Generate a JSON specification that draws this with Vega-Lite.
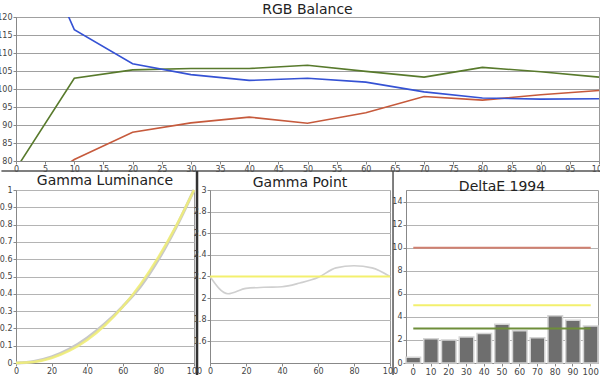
{
  "$schema": "https://vega.github.io/schema/vega-lite/v6.json",
  "autosize": {"type": "pad"},
  "padding": {"left": -4, "top": 2, "right": 0, "bottom": 0},
  "background": "#ffffff",
  "bounds": "flush",
  "spacing": 29,
  "resolve": {"scale": {"color": "independent"}},
  "config": {
    "font": "DejaVu Sans",
    "view": {"stroke": "#999999"},
    "axis": {"labelFont": "DejaVu Sans", "labelFontSize": 8, "labelColor": "#444444", "domainColor": "#888888", "tickColor": "#888888", "gridColor": "#b4b4b4", "title": null, "tickSize": 3, "labelPadding": 1, "labelFlush": false, "labelOverlap": false},
    "title": {"font": "DejaVu Sans", "fontSize": 14, "fontWeight": "normal", "color": "#222222", "offset": -4}
  },
  "datasets": {
    "rgb": [
      {"x": 0, "ch": "R", "v": 70}, {"x": 10, "ch": "R", "v": 80.4}, {"x": 20, "ch": "R", "v": 88}, {"x": 30, "ch": "R", "v": 90.6}, {"x": 40, "ch": "R", "v": 92.2}, {"x": 50, "ch": "R", "v": 90.5}, {"x": 60, "ch": "R", "v": 93.4}, {"x": 70, "ch": "R", "v": 97.9}, {"x": 80, "ch": "R", "v": 96.9}, {"x": 90, "ch": "R", "v": 98.4}, {"x": 100, "ch": "R", "v": 99.6},
      {"x": 0, "ch": "G", "v": 77.8}, {"x": 10, "ch": "G", "v": 103}, {"x": 20, "ch": "G", "v": 105.3}, {"x": 30, "ch": "G", "v": 105.7}, {"x": 40, "ch": "G", "v": 105.7}, {"x": 50, "ch": "G", "v": 106.6}, {"x": 60, "ch": "G", "v": 104.9}, {"x": 70, "ch": "G", "v": 103.3}, {"x": 80, "ch": "G", "v": 106}, {"x": 90, "ch": "G", "v": 104.8}, {"x": 100, "ch": "G", "v": 103.3},
      {"x": 0, "ch": "B", "v": 153}, {"x": 10, "ch": "B", "v": 116.5}, {"x": 20, "ch": "B", "v": 107}, {"x": 30, "ch": "B", "v": 104}, {"x": 40, "ch": "B", "v": 102.4}, {"x": 50, "ch": "B", "v": 103}, {"x": 60, "ch": "B", "v": 101.9}, {"x": 70, "ch": "B", "v": 99.2}, {"x": 80, "ch": "B", "v": 97.5}, {"x": 90, "ch": "B", "v": 97.2}, {"x": 100, "ch": "B", "v": 97.3}
    ],
    "lum": [
      {"x": 0, "s": "measured", "v": 0}, {"x": 10, "s": "measured", "v": 0.009}, {"x": 20, "s": "measured", "v": 0.035}, {"x": 30, "s": "measured", "v": 0.08}, {"x": 40, "s": "measured", "v": 0.145}, {"x": 50, "s": "measured", "v": 0.227}, {"x": 60, "s": "measured", "v": 0.327}, {"x": 70, "s": "measured", "v": 0.443}, {"x": 80, "s": "measured", "v": 0.598}, {"x": 90, "s": "measured", "v": 0.786}, {"x": 100, "s": "measured", "v": 1},
      {"x": 0, "s": "target", "v": 0}, {"x": 10, "s": "target", "v": 0.006}, {"x": 20, "s": "target", "v": 0.029}, {"x": 30, "s": "target", "v": 0.071}, {"x": 40, "s": "target", "v": 0.133}, {"x": 50, "s": "target", "v": 0.218}, {"x": 60, "s": "target", "v": 0.325}, {"x": 70, "s": "target", "v": 0.456}, {"x": 80, "s": "target", "v": 0.612}, {"x": 90, "s": "target", "v": 0.793}, {"x": 100, "s": "target", "v": 1}
    ],
    "gamma": [
      {"x": 0, "v": 2.2}, {"x": 10, "v": 2.04}, {"x": 20, "v": 2.09}, {"x": 30, "v": 2.1}, {"x": 40, "v": 2.105}, {"x": 50, "v": 2.14}, {"x": 60, "v": 2.19}, {"x": 70, "v": 2.28}, {"x": 80, "v": 2.3}, {"x": 90, "v": 2.28}, {"x": 100, "v": 2.2}
    ],
    "de": [
      {"c": 0, "v": 0.5}, {"c": 10, "v": 2.1}, {"c": 20, "v": 2.0}, {"c": 30, "v": 2.25}, {"c": 40, "v": 2.55}, {"c": 50, "v": 3.35}, {"c": 60, "v": 2.8}, {"c": 70, "v": 2.2}, {"c": 80, "v": 4.1}, {"c": 90, "v": 3.7}, {"c": 100, "v": 3.2}
    ],
    "limits": [
      {"t": 10, "k": "high"}, {"t": 5, "k": "mid"}, {"t": 3, "k": "low"}
    ],
    "one": [{}]
  },
  "vconcat": [
    {
      "width": 583,
      "height": 144,
      "title": "RGB Balance",
      "layer": [
        {
          "data": {"name": "rgb"},
          "mark": {"type": "line", "strokeWidth": 1.6, "clip": true},
          "encoding": {
            "x": {"field": "x", "type": "quantitative", "scale": {"domain": [0, 100], "nice": false}, "axis": {"values": [0, 5, 10, 15, 20, 25, 30, 35, 40, 45, 50, 55, 60, 65, 70, 75, 80, 85, 90, 95, 100], "tickCount": 100, "format": "d", "grid": false, "labelOverlap": false}},
            "y": {"field": "v", "type": "quantitative", "scale": {"domain": [80, 120], "nice": false, "zero": false}, "axis": {"values": [80, 85, 90, 95, 100, 105, 110, 115, 120], "tickCount": 100, "format": "d", "grid": true, "gridColor": "#a0a0a0", "labelOverlap": false}},
            "color": {"field": "ch", "type": "nominal", "scale": {"domain": ["R", "G", "B"], "range": ["#c65a3c", "#587a2c", "#3552d4"]}, "legend": null}
          }
        },
        {
          "data": {"name": "one"},
          "mark": {"type": "rule", "color": "#555555", "strokeWidth": 1.5, "clip": false},
          "encoding": {"x": {"datum": -2.5}, "x2": {"datum": 100.5}, "y": {"datum": 77.2}}
        },
        {
          "data": {"name": "one"},
          "mark": {"type": "rule", "color": "#333333", "strokeWidth": 2.5, "clip": false},
          "encoding": {"x": {"datum": 31.05}, "y": {"datum": 77.2}, "y2": {"datum": 20.3}}
        },
        {
          "data": {"name": "one"},
          "mark": {"type": "rule", "color": "#555555", "strokeWidth": 1.5, "clip": false},
          "encoding": {"x": {"datum": 64.67}, "y": {"datum": 77.2}, "y2": {"datum": 20.3}}
        }
      ]
    },
    {
      "bounds": "flush",
      "spacing": 16,
      "resolve": {"scale": {"color": "independent"}},
      "hconcat": [
        {
          "width": 178,
          "height": 173,
          "title": "Gamma Luminance",
          "layer": [
            {
              "data": {"name": "lum"},
              "transform": [{"filter": "datum.s == 'measured'"}],
              "mark": {"type": "line", "strokeWidth": 3, "interpolate": "monotone", "color": "#c8c8c8"},
              "encoding": {
                "x": {"field": "x", "type": "quantitative", "scale": {"domain": [0, 100], "nice": false}, "axis": {"values": [0, 20, 40, 60, 80, 100], "tickCount": 100, "format": "d", "grid": false, "labelOverlap": false}},
                "y": {"field": "v", "type": "quantitative", "scale": {"domain": [0, 1], "nice": false}, "axis": {"values": [0, 0.1, 0.2, 0.3, 0.4, 0.5, 0.6, 0.7, 0.8, 0.9, 1], "tickCount": 100, "format": "~g", "grid": true, "labelOverlap": false}}
              }
            },
            {
              "data": {"name": "lum"},
              "transform": [{"filter": "datum.s == 'target'"}],
              "mark": {"type": "line", "strokeWidth": 2.5, "interpolate": "monotone", "color": "#efed78", "opacity": 0.9},
              "encoding": {
                "x": {"field": "x", "type": "quantitative"},
                "y": {"field": "v", "type": "quantitative"}
              }
            }
          ]
        },
        {
          "width": 180,
          "height": 173,
          "title": "Gamma Point",
          "layer": [
            {
              "data": {"name": "gamma"},
              "mark": {"type": "line", "strokeWidth": 1.6, "interpolate": "monotone", "color": "#cfcfcf"},
              "encoding": {
                "x": {"field": "x", "type": "quantitative", "scale": {"domain": [0, 100], "nice": false}, "axis": {"values": [0, 20, 40, 60, 80, 100], "tickCount": 100, "format": "d", "grid": false, "labelOverlap": false}},
                "y": {"field": "v", "type": "quantitative", "scale": {"domain": [1.4, 3], "nice": false, "zero": false}, "axis": {"values": [1.6, 1.8, 2, 2.2, 2.4, 2.6, 2.8, 3], "tickCount": 100, "format": "~g", "grid": true, "labelOverlap": false}}
              }
            },
            {
              "data": {"name": "one"},
              "mark": {"type": "rule", "color": "#f3f06e", "strokeWidth": 2},
              "encoding": {"x": {"datum": 0}, "x2": {"datum": 100}, "y": {"datum": 2.2}}
            }
          ]
        },
        {
          "width": 192,
          "height": 173,
          "title": "DeltaE 1994",
          "layer": [
            {
              "data": {"name": "de"},
              "mark": {"type": "bar", "color": "#6e6e6e", "stroke": "#d4d4d4", "strokeWidth": 1.5},
              "encoding": {
                "x": {"field": "c", "type": "ordinal", "scale": {"paddingInner": 0.18, "paddingOuter": 0}, "axis": {"labelAngle": 0, "grid": false, "labelFontSize": 8.5, "labelOverlap": false}},
                "y": {"field": "v", "type": "quantitative", "scale": {"domain": [0, 15], "nice": false}, "axis": {"values": [0, 2, 4, 6, 8, 10, 12, 14], "tickCount": 100, "format": "d", "grid": true, "labelOverlap": false}}
              }
            },
            {
              "data": {"name": "limits"},
              "mark": {"type": "rule", "strokeWidth": 2},
              "encoding": {
                "x": {"datum": 0, "type": "ordinal"},
                "x2": {"datum": 100},
                "y": {"field": "t", "type": "quantitative"},
                "color": {"field": "k", "type": "nominal", "scale": {"domain": ["high", "mid", "low"], "range": ["#d08070", "#f3f06e", "#6e8e3a"]}, "legend": null}
              }
            }
          ]
        }
      ]
    }
  ]
}
